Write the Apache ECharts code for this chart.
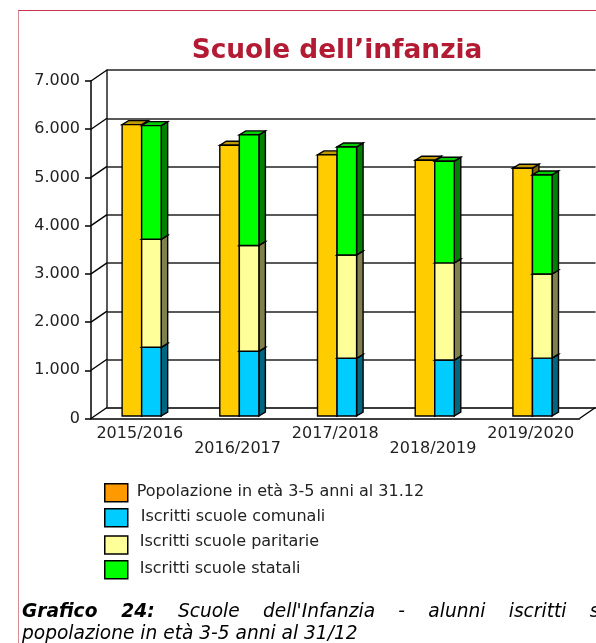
<!DOCTYPE html>
<html>
<head>
<meta charset="utf-8">
<script src="https://cdn.jsdelivr.net/npm/echarts@6/dist/echarts.min.js"></script>
<style>
    html, body { margin: 0; padding: 0; background: #fff; overflow: hidden; }
    #frame { position: absolute; left: 18px; top: 10px; width: 600px; height: 650px; border-top: 1px solid #c9354f; border-left: 1px solid #d98a97; }
    #chart { position: absolute; left: 0; top: 0; width: 596px; height: 643px; }
    #caption { position: absolute; left: 22px; top: 600px; width: 800px; font: italic 18.6px/22px "DejaVu Sans", sans-serif; color: #000; white-space: nowrap; }
    #caption .first { word-spacing: 17.4px; }
</style>
</head>
<body>
<div id="frame"></div>
<div id="chart"></div>
<div id="caption"><div class="first"><b>Grafico 24:</b> Scuole dell'Infanzia - alunni iscritti sulla</div>popolazione in età 3-5 anni al 31/12</div>
<script>
const years = ['2015/2016', '2016/2017', '2017/2018', '2018/2019', '2019/2020'];
const popolazione = [6043, 5616, 5415, 5305, 5140];
const comunali = [1425, 1342, 1197, 1160, 1200];
const paritarie = [2240, 2195, 2143, 2015, 1745];
const statali = [2357, 2293, 2240, 2110, 2055];
const yTicks = [0, 1000, 2000, 3000, 4000, 5000, 6000, 7000];

const fontName = '"DejaVu Sans", sans-serif';
const black = '#000';

// face, side, top
const orangeShades = ['#ffcc00', '#806600', '#c09b00'];
const blueShades = ['#00ccff', '#006680', '#00a3cc'];
const yellowShades = ['#ffff99', '#80804d', '#cccc7a'];
const greenShades = ['#00ff00', '#008000', '#00cc00'];

function fmt(v) {
    return String(v).replace(/\B(?=(\d{3})+$)/g, '.');
}

// one 3d box between base and top value
function box(shades, slot) {
    return function (params, api) {
        let cat = api.value(0);
        let p0 = api.coord([cat, api.value(1)]);
        let p1 = api.coord([cat, api.value(2)]);
        let w = api.size([1, 0])[0] * 0.2;
        let x0 = p0[0] + 1.8 + slot * w;
        let x1 = x0 + w;
        let y0 = p0[1] - 2.5;
        let y1 = p1[1] - 2.5;
        let dx = 6.5, dy = -4;
        let line = { stroke: black, lineWidth: 1.4 };
        return {
            type: 'group',
            children: [{
                type: 'polygon',
                shape: { points: [[x1, y0], [x1 + dx, y0 + dy], [x1 + dx, y1 + dy], [x1, y1]] },
                style: Object.assign({ fill: shades[1] }, line)
            }, {
                type: 'polygon',
                shape: { points: [[x0, y1], [x0 + dx, y1 + dy], [x1 + dx, y1 + dy], [x1, y1]] },
                style: Object.assign({ fill: shades[2] }, line)
            }, {
                type: 'rect',
                shape: { x: x0, y: y1, width: w, height: y0 - y1 },
                style: Object.assign({ fill: shades[0] }, line)
            }]
        };
    };
}

function boxSeries(name, color, shades, slot, rows) {
    return {
        type: 'custom',
        name: name,
        xAxisIndex: 0,
        yAxisIndex: 0,
        clip: false,
        itemStyle: { color: color },
        encode: { x: 0, y: [1, 2] },
        renderItem: box(shades, slot),
        data: rows
    };
}

let stack1 = comunali.map((v, i) => [i, 0, v]);
let stack2 = paritarie.map((v, i) => [i, stack1[i][2], stack1[i][2] + v]);
let stack3 = statali.map((v, i) => [i, stack2[i][2], stack2[i][2] + v]);

function legendAt(name, top, gap, lift) {
    return {
        left: 104,
        top: top,
        itemWidth: 23,
        itemHeight: 18,
        selectedMode: false,
        icon: 'rect',
        padding: 0,
        itemStyle: { borderColor: black, borderWidth: 1.5 },
        formatter: '{t|{name}}',
        textStyle: {
            rich: {
                t: { fontFamily: fontName, fontSize: 16, color: '#222', padding: [0, 0, lift, gap] }
            }
        },
        data: [name]
    };
}

let chart = echarts.init(document.getElementById('chart'));
chart.setOption({
    animation: false,
    title: {
        text: 'Scuole dell’infanzia',
        left: 332,
        top: 33,
        textAlign: 'center',
        textStyle: { fontFamily: fontName, fontSize: 26.4, fontWeight: 'bold', color: '#b31b34' }
    },
    legend: [
        legendAt('Popolazione in età 3-5 anni al 31.12', 483, 4, 2),
        legendAt('Iscritti scuole comunali', 508, 8, 2),
        legendAt('Iscritti scuole paritarie', 534, 7, 6),
        legendAt('Iscritti scuole statali', 560, 7, 2)
    ],
    grid: [
        { left: 91, top: 81, width: 488.5, height: 337.5 },
        { left: 107, top: 70, width: 488.5, height: 338 }
    ],
    xAxis: [{
        type: 'category',
        gridIndex: 0,
        data: years,
        axisLine: { lineStyle: { color: black, width: 1.5 } },
        axisTick: { length: 6, lineStyle: { color: black, width: 1.5 } },
        axisLabel: {
            interval: 0,
            margin: 8,
            fontFamily: fontName,
            fontSize: 16,
            color: '#222',
            lineHeight: 15,
            formatter: (v, i) => (i % 2 ? '\n' + v : v)
        }
    }, {
        type: 'category',
        gridIndex: 1,
        data: years,
        axisLine: { lineStyle: { color: '#333', width: 1.5 } },
        axisTick: { show: false },
        axisLabel: { show: false }
    }],
    yAxis: [{
        type: 'value',
        gridIndex: 0,
        min: 0,
        max: 7000,
        interval: 1000,
        splitLine: { show: false },
        axisLine: { show: true, lineStyle: { color: black, width: 1.5 } },
        axisTick: { show: true, length: 6, lineStyle: { color: black, width: 1.5 } },
        axisLabel: { margin: 11, fontFamily: fontName, fontSize: 16, color: '#222', formatter: fmt }
    }, {
        type: 'value',
        gridIndex: 1,
        min: 0,
        max: 7000,
        interval: 1000,
        splitLine: { show: true, lineStyle: { color: '#222', width: 1.5 } },
        axisLine: { show: true, lineStyle: { color: '#222', width: 1.5 } },
        axisTick: { show: false },
        axisLabel: { show: false }
    }],
    series: [{
        // slanted lines joining the front axis to the back wall
        type: 'custom',
        xAxisIndex: 0,
        yAxisIndex: 0,
        clip: false,
        silent: true,
        encode: { y: 0 },
        renderItem(params, api) {
            let y = api.coord([0, api.value(0)])[1];
            let x = params.coordSys.x;
            let w = params.coordSys.width;
            let kids = [{
                type: 'line',
                shape: { x1: x, y1: y, x2: x + 16, y2: y - 11 },
                style: { stroke: black, lineWidth: 1.4 }
            }];
            if (api.value(0) == 0) {
                kids.push({
                    type: 'line',
                    shape: { x1: x + w, y1: y, x2: x + w + 16, y2: y - 11 },
                    style: { stroke: black, lineWidth: 1.4 }
                });
            }
            return { type: 'group', children: kids };
        },
        data: yTicks.map(v => [v])
    },
    boxSeries('Popolazione in età 3-5 anni al 31.12', '#ff9900', orangeShades, -1, popolazione.map((v, i) => [i, 0, v])),
    boxSeries('Iscritti scuole comunali', '#00ccff', blueShades, 0, stack1),
    boxSeries('Iscritti scuole paritarie', '#ffff99', yellowShades, 0, stack2),
    boxSeries('Iscritti scuole statali', '#00ff00', greenShades, 0, stack3)]
});
</script>
</body>
</html>
